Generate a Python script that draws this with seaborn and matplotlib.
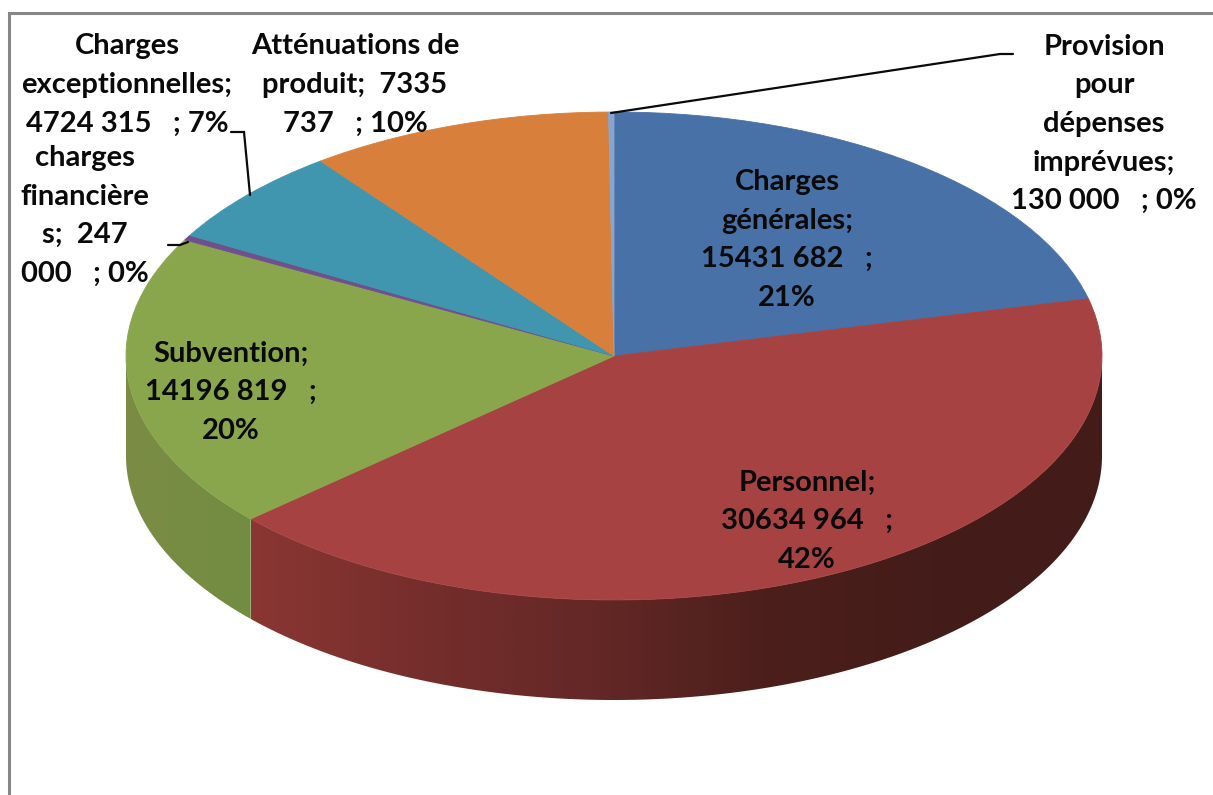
import numpy as np
import matplotlib
matplotlib.use('Agg')
import matplotlib.pyplot as plt
from matplotlib.colors import ListedColormap
from matplotlib.patches import Polygon
import seaborn as sns

sns.set_theme(style='white')
plt.rcParams['font.family'] = ['Lato', 'DejaVu Sans']

# ── Data ──────────────────────────────────────────────────────────────────────
names = ['Charges générales', 'Personnel', 'Subvention', 'charges financières',
         'Charges exceptionnelles', 'Atténuations de produit',
         'Provision pour dépenses imprévues']
values = [15431682, 30634964, 14196819, 247000, 4724315, 7335737, 130000]
colors = ['#4771a7', '#a64342', '#8aa64d', '#704f8d', '#4095af', '#d8803b', '#86a5cf']

labels = ['Charges\ngénérales;\n15431 682   ;\n21%',
          'Personnel;\n30634 964   ;\n42%',
          'Subvention;\n14196 819   ;\n20%',
          'charges\nfinancière\ns;  247\n000   ; 0%',
          'Charges\nexceptionnelles;\n4724 315   ; 7%',
          'Atténuations de\nproduit;  7335\n737   ; 10%',
          'Provision\npour\ndépenses\nimprévues;\n130 000   ; 0%']
label_px = [(787, 240), (807, 521), (231, 392), (85, 216),
            (127, 85), (355, 85), (1104, 124)]

# leader lines, pixel positions on the reference
leaders = {3: [(188, 242), (180, 245), (168, 245)],
           4: [(250, 195), (244, 132), (231, 132)],
           6: [(611, 113), (1000, 54), (1013, 54)]}

# ── Pie geometry (pixels) ─────────────────────────────────────────────────────
W, H = 1213, 795
CX, CY = 614, 356
RX, RY = 488, 244
DEPTH = 100 / RY


def px(x, y):
    return (x - CX) / RX, (CY - y) / RY


red_side = sns.blend_palette(['#8a3633', '#752e2c', '#642826', '#4c1f1c', '#441c19', '#431c19'], 256)
green_side = sns.blend_palette(['#7b8c45', '#728c41'], 64)

fig = plt.figure(figsize=(W / 100, H / 100), dpi=100)
ax = fig.add_axes([0, 0, 1, 1])

# slice boundaries, clockwise from the top
theta = np.radians(np.concatenate([[0], np.cumsum(values)]) / np.sum(values) * 360)


def draw_side(start, end, palette, z):
    steps = np.linspace(start, end, 300)
    sx, sy = np.sin(steps), np.cos(steps)
    wall = Polygon(np.c_[np.r_[sx, sx[::-1]], np.r_[sy, sy[::-1] - DEPTH]],
                   closed=True, transform=ax.transData, fc='none', ec='none')
    ax.add_patch(wall)
    grad = np.linspace(0, 1, 400).reshape(1, -1)
    img = ax.imshow(grad, cmap=ListedColormap(palette), aspect='auto', zorder=z,
                    extent=(sx.min(), sx.max(), -1 - DEPTH, 1), interpolation='bilinear')
    img.set_clip_path(wall)


wedges, _ = ax.pie(values, colors=colors, startangle=90, counterclock=False, radius=1,
                   wedgeprops={'linewidth': 0.6, 'zorder': 3})
for w, c in zip(wedges, colors):
    w.set_edgecolor(c)

# visible outer wall: personnel from the right edge, subvention to the left edge
draw_side(np.pi / 2, theta[2], red_side, 2)
draw_side(theta[2], 1.5 * np.pi, green_side, 2)

ax.set_aspect('auto')
ax.set_xlim(px(0, 0)[0], px(W, 0)[0])
ax.set_ylim(px(0, H)[1], px(0, 0)[1])

for idx, pts in leaders.items():
    xy = np.array([px(*p) for p in pts])
    ax.plot(xy[:, 0], xy[:, 1], color='#0a0a0a', lw=1.6, zorder=4,
            solid_joinstyle='miter')

for text, (x, y) in zip(labels, label_px):
    dx, dy = px(x, y)
    ax.text(dx, dy, text, ha='center', va='center', multialignment='center',
            fontsize=21, fontweight='bold', color='#0a0a0a', linespacing=1.6,
            zorder=5)

# chart frame, only top and left fall inside the crop
ax.plot(*zip(px(9, H), px(9, 13), px(W, 13)), color='#868686', lw=2.2, zorder=1,
        solid_joinstyle='miter')

fig.savefig('out.png', dpi=100, facecolor='white')
